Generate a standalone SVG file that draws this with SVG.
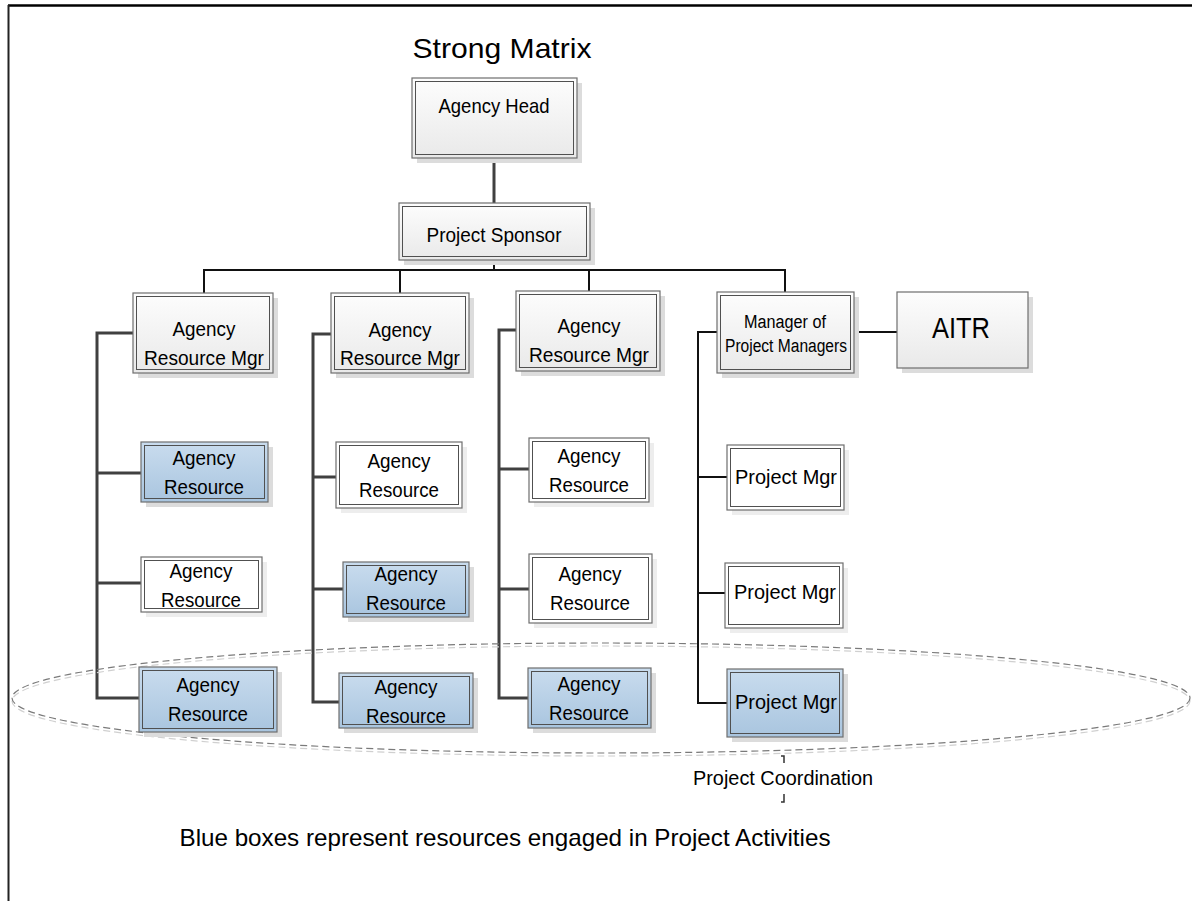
<svg xmlns="http://www.w3.org/2000/svg" width="1192" height="901" viewBox="0 0 1192 901">
<style>
text{font-family:"Liberation Sans",Arial,sans-serif;fill:#000;text-anchor:middle}
.t{font-size:21px}
.sh{fill:#dcdcdc}
.o{stroke:#6e6e6e;stroke-width:1.2}
.i{fill:none;stroke:#505050;stroke-width:1}
.w{fill:#fff}
.g{fill:url(#gg)}
.b{fill:url(#gb)}
.c{fill:none;stroke:#404040;stroke-width:3}
.k{fill:none;stroke:#111;stroke-width:2}
</style>
<defs>
<linearGradient id="gg" x1="0" y1="0" x2="0" y2="1"><stop offset="0" stop-color="#fdfdfd"/><stop offset="1" stop-color="#e9e9e9"/></linearGradient>
<linearGradient id="gb" x1="0" y1="0" x2="0" y2="1"><stop offset="0" stop-color="#c9dcee"/><stop offset="1" stop-color="#a9c5df"/></linearGradient>
</defs>
<rect width="1192" height="901" fill="#fff"/>
<g id="frame"><line x1="8" y1="5.5" x2="1192" y2="5.5" stroke="#000" stroke-width="2.5"/><line x1="8.5" y1="5" x2="8.5" y2="901" stroke="#222" stroke-width="2"/></g>
<text id="title" x="502" y="58" style="font-size:28px" textLength="179" lengthAdjust="spacingAndGlyphs">Strong Matrix</text>
<g id="connectors">
<path class="c" d="M494 158V203"/>
<path class="k" d="M494 260V270M204 293V270H785V292M400 270V293M589 270V291"/>
<path class="c" d="M133 333H97V698H139M97 473H141M97 583H141"/>
<path class="c" d="M331 334H313V702H339M313 477H336M313 589H348"/>
<path class="c" d="M516 330H499V698H528M499 469H529M499 589H529"/>
<path class="k" d="M717 332H698V703H727M698 477H727M698 593H725M854 332H897"/>
</g>
<g id="ellipse">
<ellipse cx="601" cy="701" rx="589" ry="55" fill="none" stroke="#d0d0d0" stroke-width="1.2" stroke-dasharray="7 4"/>
<ellipse cx="601" cy="698" rx="589" ry="55" fill="none" stroke="#7a7a7a" stroke-width="1.2" stroke-dasharray="7 4"/>
</g>
<g id="agency-head"><rect class="sh" x="417" y="83" width="165" height="80"/><rect class="o g" x="412" y="78" width="165" height="80"/><rect class="i" x="415.5" y="81.5" width="158" height="73"/><text class="t" x="494" y="113" textLength="111" lengthAdjust="spacingAndGlyphs">Agency Head</text></g>
<g id="project-sponsor"><rect class="sh" x="404" y="208" width="191" height="57"/><rect class="o g" x="399" y="203" width="191" height="57"/><rect class="i" x="402.5" y="206.5" width="184" height="50"/><text class="t" x="494" y="242" textLength="135" lengthAdjust="spacingAndGlyphs">Project Sponsor</text></g>

<g id="mgr1"><rect class="sh" x="138" y="298" width="140" height="80"/><rect class="o g" x="133" y="293" width="140" height="80"/><rect class="i" x="136.5" y="296.5" width="133" height="73"/><text class="t" x="204" y="336" textLength="63" lengthAdjust="spacingAndGlyphs">Agency</text><text class="t" x="204" y="365" textLength="120" lengthAdjust="spacingAndGlyphs">Resource Mgr</text></g>
<g id="r1a"><rect class="sh" x="146" y="447" width="127" height="60"/><rect class="o b" x="141" y="442" width="127" height="60"/><rect class="i" x="144.5" y="445.5" width="120" height="53"/><text class="t" x="204" y="465" textLength="63" lengthAdjust="spacingAndGlyphs">Agency</text><text class="t" x="204" y="494" textLength="80" lengthAdjust="spacingAndGlyphs">Resource</text></g>
<g id="r1b"><rect class="sh" x="146" y="562" width="121" height="55" opacity="0.5"/><rect class="o w" x="141" y="557" width="121" height="55"/><rect class="i" x="144.5" y="560.5" width="114" height="48"/><text class="t" x="201" y="578" textLength="63" lengthAdjust="spacingAndGlyphs">Agency</text><text class="t" x="201" y="607" textLength="80" lengthAdjust="spacingAndGlyphs">Resource</text></g>
<g id="r1c"><rect class="sh" x="144" y="672" width="138" height="65"/><rect class="o b" x="139" y="667" width="138" height="65"/><rect class="i" x="142.5" y="670.5" width="131" height="58"/><text class="t" x="208" y="692" textLength="63" lengthAdjust="spacingAndGlyphs">Agency</text><text class="t" x="208" y="721" textLength="80" lengthAdjust="spacingAndGlyphs">Resource</text></g>

<g id="mgr2"><rect class="sh" x="336" y="298" width="138" height="80"/><rect class="o g" x="331" y="293" width="138" height="80"/><rect class="i" x="334.5" y="296.5" width="131" height="73"/><text class="t" x="400" y="337" textLength="63" lengthAdjust="spacingAndGlyphs">Agency</text><text class="t" x="400" y="365" textLength="120" lengthAdjust="spacingAndGlyphs">Resource Mgr</text></g>
<g id="r2a"><rect class="sh" x="341" y="447" width="126" height="66" opacity="0.5"/><rect class="o w" x="336" y="442" width="126" height="66"/><rect class="i" x="339.5" y="445.5" width="119" height="59"/><text class="t" x="399" y="468" textLength="63" lengthAdjust="spacingAndGlyphs">Agency</text><text class="t" x="399" y="497" textLength="80" lengthAdjust="spacingAndGlyphs">Resource</text></g>
<g id="r2b"><rect class="sh" x="348" y="567" width="126" height="55"/><rect class="o b" x="343" y="562" width="126" height="55"/><rect class="i" x="346.5" y="565.5" width="119" height="48"/><text class="t" x="406" y="581" textLength="63" lengthAdjust="spacingAndGlyphs">Agency</text><text class="t" x="406" y="610" textLength="80" lengthAdjust="spacingAndGlyphs">Resource</text></g>
<g id="r2c"><rect class="sh" x="344" y="678" width="134" height="55"/><rect class="o b" x="339" y="673" width="134" height="55"/><rect class="i" x="342.5" y="676.5" width="127" height="48"/><text class="t" x="406" y="694" textLength="63" lengthAdjust="spacingAndGlyphs">Agency</text><text class="t" x="406" y="723" textLength="80" lengthAdjust="spacingAndGlyphs">Resource</text></g>

<g id="mgr3"><rect class="sh" x="521" y="296" width="144" height="80"/><rect class="o g" x="516" y="291" width="144" height="80"/><rect class="i" x="519.5" y="294.5" width="137" height="73"/><text class="t" x="589" y="333" textLength="63" lengthAdjust="spacingAndGlyphs">Agency</text><text class="t" x="589" y="362" textLength="120" lengthAdjust="spacingAndGlyphs">Resource Mgr</text></g>
<g id="r3a"><rect class="sh" x="534" y="443" width="120" height="64" opacity="0.5"/><rect class="o w" x="529" y="438" width="120" height="64"/><rect class="i" x="532.5" y="441.5" width="113" height="57"/><text class="t" x="589" y="463" textLength="63" lengthAdjust="spacingAndGlyphs">Agency</text><text class="t" x="589" y="492" textLength="80" lengthAdjust="spacingAndGlyphs">Resource</text></g>
<g id="r3b"><rect class="sh" x="534" y="559" width="123" height="69" opacity="0.5"/><rect class="o w" x="529" y="554" width="123" height="69"/><rect class="i" x="532.5" y="557.5" width="116" height="62"/><text class="t" x="590" y="581" textLength="63" lengthAdjust="spacingAndGlyphs">Agency</text><text class="t" x="590" y="610" textLength="80" lengthAdjust="spacingAndGlyphs">Resource</text></g>
<g id="r3c"><rect class="sh" x="533" y="673" width="123" height="60"/><rect class="o b" x="528" y="668" width="123" height="60"/><rect class="i" x="531.5" y="671.5" width="116" height="53"/><text class="t" x="589" y="691" textLength="63" lengthAdjust="spacingAndGlyphs">Agency</text><text class="t" x="589" y="720" textLength="80" lengthAdjust="spacingAndGlyphs">Resource</text></g>

<g id="mgr4"><rect class="sh" x="722" y="297" width="137" height="81"/><rect class="o g" x="717" y="292" width="137" height="81"/><rect class="i" x="720.5" y="295.5" width="130" height="74"/><text x="785" y="328" style="font-size:18px" textLength="82" lengthAdjust="spacingAndGlyphs">Manager of</text><text x="786" y="352" style="font-size:18px" textLength="122" lengthAdjust="spacingAndGlyphs">Project Managers</text></g>
<g id="aitr"><rect class="sh" x="902" y="297" width="131" height="76"/><rect class="o g" x="897" y="292" width="131" height="76"/><text x="961" y="338" style="font-size:29px" textLength="58" lengthAdjust="spacingAndGlyphs">AITR</text></g>
<g id="pm1"><rect class="sh" x="732" y="450" width="117" height="65" opacity="0.5"/><rect class="o w" x="727" y="445" width="117" height="65"/><rect class="i" x="730.5" y="448.5" width="110" height="58"/><text class="t" x="786" y="484" textLength="102" lengthAdjust="spacingAndGlyphs">Project Mgr</text></g>
<g id="pm2"><rect class="sh" x="730" y="568" width="118" height="65" opacity="0.5"/><rect class="o w" x="725" y="563" width="118" height="65"/><rect class="i" x="728.5" y="566.5" width="111" height="58"/><text class="t" x="785" y="599" textLength="102" lengthAdjust="spacingAndGlyphs">Project Mgr</text></g>
<g id="pm3"><rect class="sh" x="732" y="674" width="116" height="68"/><rect class="o b" x="727" y="669" width="116" height="68"/><rect class="i" x="730.5" y="672.5" width="109" height="61"/><text class="t" x="786" y="709" textLength="102" lengthAdjust="spacingAndGlyphs">Project Mgr</text></g>

<g id="coordination">
<path d="M781 756H784V763M784 794V802H781" fill="none" stroke="#333" stroke-width="1.5"/>
<text x="783" y="785" style="font-size:20px" textLength="180" lengthAdjust="spacingAndGlyphs">Project Coordination</text>
</g>
<text id="note" x="505" y="846" style="font-size:24px" textLength="651" lengthAdjust="spacingAndGlyphs">Blue boxes represent resources engaged in Project Activities</text>
</svg>
